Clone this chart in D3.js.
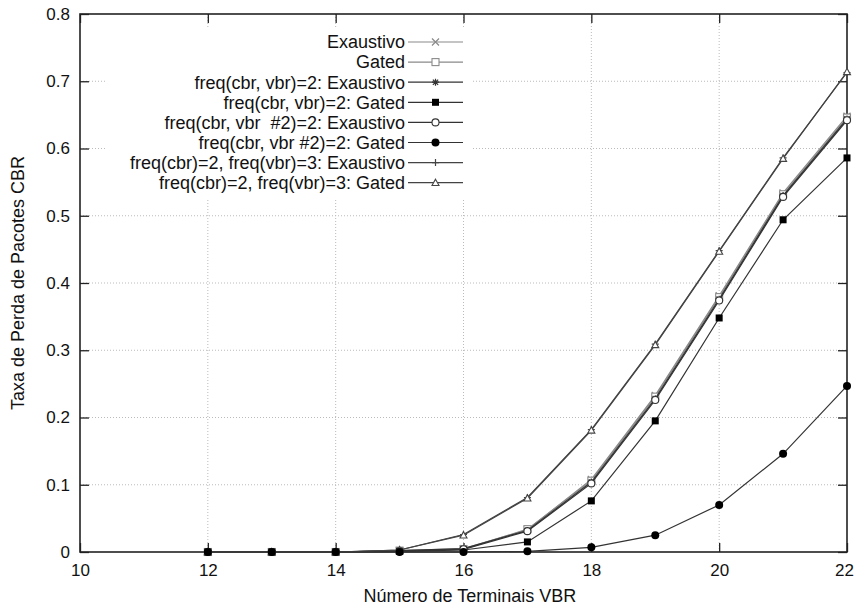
<!DOCTYPE html>
<html>
<head>
<meta charset="utf-8">
<script src="https://cdn.jsdelivr.net/npm/d3@7"></script>
<style>
  body { margin: 0; background: #fff; }
  svg text { font-family: "Liberation Sans", Arial, sans-serif; fill: #111; }
</style>
</head>
<body>
<svg width="855" height="607"></svg>
<script>
// -------------------- Data --------------------
const terminals = [12, 13, 14, 15, 16, 17, 18, 19, 20, 21, 22];
const seriesNames = [
  "Exaustivo",
  "Gated",
  "freq(cbr, vbr)=2: Exaustivo",
  "freq(cbr, vbr)=2: Gated",
  "freq(cbr, vbr  #2)=2: Exaustivo",
  "freq(cbr, vbr #2)=2: Gated",
  "freq(cbr)=2, freq(vbr)=3: Exaustivo",
  "freq(cbr)=2, freq(vbr)=3: Gated"
];
const exaustivo     = [0, 0, 0, 0.002, 0.005, 0.033, 0.108, 0.233, 0.381, 0.534, 0.648];
const gated         = [0, 0, 0, 0.002, 0.004, 0.034, 0.106, 0.231, 0.379, 0.532, 0.646];
const f2Exaustivo   = [0, 0, 0, 0.002, 0.005, 0.032, 0.104, 0.228, 0.376, 0.530, 0.644];
const f2Gated       = [0, 0, 0, 0.001, 0.003, 0.015, 0.076, 0.195, 0.348, 0.494, 0.586];
const v2Exaustivo   = [0, 0, 0, 0.001, 0.004, 0.031, 0.102, 0.226, 0.374, 0.528, 0.642];
const v2Gated       = [0, 0, 0, 0, 0, 0.001, 0.007, 0.025, 0.070, 0.146, 0.247];
const f3Exaustivo   = [0, 0, 0, 0.003, 0.026, 0.081, 0.182, 0.309, 0.448, 0.586, 0.713];
const f3Gated       = [0, 0, 0, 0.003, 0.025, 0.080, 0.181, 0.308, 0.447, 0.585, 0.714];
const xTicks = [10, 12, 14, 16, 18, 20, 22];
const yTicks = [0, 0.1, 0.2, 0.3, 0.4, 0.5, 0.6, 0.7, 0.8];

const allValues = [exaustivo, gated, f2Exaustivo, f2Gated, v2Exaustivo, v2Gated, f3Exaustivo, f3Gated];
const colors = ["#8a8a8a", "#8a8a8a", "#333", "#333", "#333", "#333", "#444", "#444"];
const markers = ["x", "square", "star", "fsquare", "circle", "fcircle", "plus", "triangle"];
// filled circles sit on top along the zero line
const drawOrder = [0, 1, 2, 3, 4, 6, 7, 5];

// -------------------- SVG Code --------------------
const margin = { top: 14, right: 8, bottom: 55, left: 80 };
const width = 855 - margin.left - margin.right;
const height = 607 - margin.top - margin.bottom;

const svg = d3.select("svg")
  .append("g")
  .attr("transform", `translate(${margin.left},${margin.top})`);

const x = d3.scaleLinear().domain([10, 22]).range([0, width]);
const y = d3.scaleLinear().domain([0, 0.8]).range([height, 0]);

// legend placement
const key = { right: 325, top: 28, rowH: 20.1, lineW: 55 };

// grid
const grid = svg.append("g").attr("stroke", "#bbb").attr("stroke-dasharray", "1,2").attr("stroke-width", 1);
xTicks.slice(1, -1).forEach(t => {
  grid.append("line").attr("x1", x(t)).attr("x2", x(t)).attr("y1", 0).attr("y2", height);
});
yTicks.slice(1, -1).forEach(t => {
  grid.append("line").attr("x1", 0).attr("x2", width).attr("y1", y(t)).attr("y2", y(t));
});
// key area hides the grid
svg.append("rect")
  .attr("x", 25).attr("y", 14)
  .attr("width", 368).attr("height", 170)
  .attr("fill", "#fff");

// axes labels with inward ticks
const xAxis = d3.axisBottom(x).tickValues(xTicks).tickSize(-9).tickPadding(12).tickFormat(d3.format("d"));
const yAxis = d3.axisLeft(y).tickValues(yTicks).tickSize(-9).tickPadding(10).tickFormat(d => d === 0 ? "0" : d3.format(".1f")(d));

const gx = svg.append("g").attr("transform", `translate(0,${height})`).call(xAxis);
svg.append("g").call(yAxis);
// mirror ticks on top and right
svg.append("g").call(d3.axisTop(x).tickValues(xTicks).tickSize(-9).tickFormat(""));
svg.append("g").attr("transform", `translate(${width},0)`).call(d3.axisRight(y).tickValues(yTicks).tickSize(-9).tickFormat(""));
svg.selectAll(".domain").remove();
svg.selectAll(".tick line").attr("stroke", "#222").attr("stroke-width", 1.3);
svg.selectAll(".tick text").style("font-size", "17px").attr("fill", "#111");
// keep the last x label inside the window
gx.selectAll(".tick text").filter(d => d === 22).attr("dx", -3);

// frame
svg.append("rect").attr("width", width).attr("height", height)
  .attr("fill", "none").attr("stroke", "#222").attr("stroke-width", 1.6);

// axis titles
svg.append("text")
  .attr("x", x(16.1)).attr("y", height + 50)
  .attr("text-anchor", "middle").style("font-size", "18px")
  .text("Número de Terminais VBR");
svg.append("text")
  .attr("transform", `translate(${-56},${y(0.4)}) rotate(-90)`)
  .attr("text-anchor", "middle").style("font-size", "18px")
  .text("Taxa de Perda de Pacotes CBR");

// marker drawer
function drawMarker(g, type, cx, cy, color) {
  const s = 3.5;
  const m = g.append("g").attr("transform", `translate(${cx},${cy})`);
  if (type === "x") {
    m.append("path").attr("d", `M${-s},${-s}L${s},${s}M${-s},${s}L${s},${-s}`).attr("stroke", color).attr("stroke-width", 1.2);
  } else if (type === "square") {
    m.append("rect").attr("x", -s).attr("y", -s).attr("width", 2 * s).attr("height", 2 * s)
      .attr("fill", "#fff").attr("stroke", color).attr("stroke-width", 1.1);
  } else if (type === "star") {
    m.append("path").attr("d", `M${-s},0L${s},0M0,${-s}L0,${s}M${-s * 0.75},${-s * 0.75}L${s * 0.75},${s * 0.75}M${-s * 0.75},${s * 0.75}L${s * 0.75},${-s * 0.75}`)
      .attr("stroke", color).attr("stroke-width", 1.2);
  } else if (type === "fsquare") {
    m.append("rect").attr("x", -s).attr("y", -s).attr("width", 2 * s).attr("height", 2 * s).attr("fill", "#000");
  } else if (type === "circle") {
    m.append("circle").attr("r", s).attr("fill", "#fff").attr("stroke", color).attr("stroke-width", 1.1);
  } else if (type === "fcircle") {
    m.append("circle").attr("r", s + 0.5).attr("fill", "#000");
  } else if (type === "plus") {
    m.append("path").attr("d", `M${-s},0L${s},0M0,${-s}L0,${s}`).attr("stroke", color).attr("stroke-width", 1.2);
  } else if (type === "triangle") {
    m.append("path").attr("d", `M0,${-s}L${s},${s * 0.8}L${-s},${s * 0.8}Z`)
      .attr("fill", "#fff").attr("stroke", color).attr("stroke-width", 1.1);
  }
}

// lines
const line = d3.line()
  .x((d, i) => x(terminals[i]))
  .y(d => y(d));

drawOrder.forEach(k => {
  const vals = allValues[k];
  const g = svg.append("g");
  g.append("path")
    .datum(vals)
    .attr("fill", "none")
    .attr("stroke", colors[k])
    .attr("stroke-width", 1.2)
    .attr("d", line);
  vals.forEach((v, i) => drawMarker(g, markers[k], x(terminals[i]), y(v), colors[k]));
});

// legend
const legend = svg.append("g");
seriesNames.forEach((name, k) => {
  const ly = key.top + k * key.rowH;
  legend.append("text")
    .attr("x", key.right).attr("y", ly).attr("dy", "0.35em")
    .attr("text-anchor", "end").style("font-size", "18px")
    .style("white-space", "pre")
    .text(name);
  legend.append("line")
    .attr("x1", key.right + 3).attr("x2", key.right + 3 + key.lineW)
    .attr("y1", ly).attr("y2", ly)
    .attr("stroke", colors[k]).attr("stroke-width", 1.2);
  drawMarker(legend, markers[k], key.right + 3 + key.lineW / 2, ly, colors[k]);
});
</script>
</body>
</html>
